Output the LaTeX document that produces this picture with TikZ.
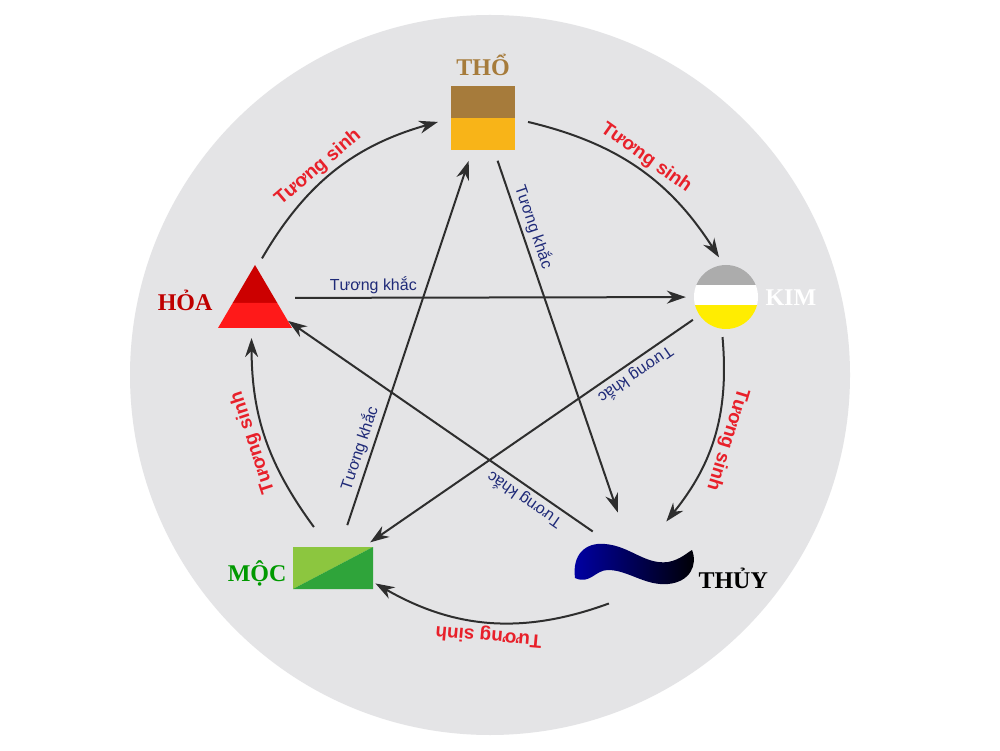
\documentclass[tikz,border=0pt]{standalone}
\usepackage{fontspec}
\setmainfont{Liberation Serif}
\setsansfont{Liberation Sans}
\usetikzlibrary{arrows.meta}
\definecolor{bgcircle}{HTML}{E4E4E6}
\definecolor{thobrown}{HTML}{A67B3B}
\definecolor{thoyellow}{HTML}{F8B418}
\definecolor{sinhred}{HTML}{E8202A}
\definecolor{khacblue}{HTML}{1F2A78}
\definecolor{arrowgrey}{HTML}{2E2E2E}
\definecolor{moclight}{HTML}{8CC63F}
\definecolor{mocdark}{HTML}{2FA43A}
\begin{document}
\begin{tikzpicture}[x=1pt,y=1pt]

\tikzstyle{hidden}=[circle, minimum size=90pt, inner sep=0pt]
\tikzstyle{element}=[font=\fontsize{24}{26}\selectfont\bfseries]
\tikzstyle{connect}=[-{Stealth[length=19pt,width=13pt]}, line width=2pt, draw=arrowgrey]
\tikzstyle{sinh}=[font=\sffamily\bfseries\fontsize{19}{21}\selectfont, text=sinhred]
\tikzstyle{khac}=[font=\sffamily\fontsize{16}{18}\selectfont, text=khacblue]

\useasboundingbox (0,0) rectangle (1000,750);
\fill[white] (0,0) rectangle (1000,750);
\fill[bgcircle] (490,375) circle (360);

% elements
\fill[thobrown] (451,632) rectangle (515,664);
\fill[thoyellow] (451,600) rectangle (515,632);
\node[element, text=thobrown] (tholabel) at (483,685) {THỔ};

\begin{scope}
\clip (726,453) circle (32);
\fill[gray!65] (690,465) rectangle (760,490);
\fill[white] (690,445) rectangle (760,465);
\fill[yellow!95!orange] (690,415) rectangle (760,445);
\end{scope}
\node[element, text=white, anchor=west] (kimlabel) at (762,452) {KIM};

\shade[left color=blue!65!black, right color=black]
  (575,172) .. controls (572,195) and (585,208) .. (605,206)
  .. controls (630,204) and (645,185) .. (668,188)
  .. controls (680,190) and (688,198) .. (692,200)
  .. controls (698,185) and (690,168) .. (668,166)
  .. controls (645,164) and (628,180) .. (608,180)
  .. controls (595,180) and (590,165) .. (575,172) -- cycle;
\node[element, text=black, anchor=west] (thuylabel) at (695,172) {THỦY};

\fill[moclight] (293,161) -- (293,203) -- (373,203) -- cycle;
\fill[mocdark] (293,161) -- (373,203) -- (373,161) -- cycle;
\node[element, text=green!60!black, anchor=east] (moclabel) at (290,177) {MỘC};

\fill[red!80!black] (255,485) -- (232.7,447) -- (277.3,447) -- cycle;
\fill[red!90!white] (232.7,447) -- (218,422) -- (292,422) -- (277.3,447) -- cycle;
\node[element, text=red!75!black, anchor=east] (hoalabel) at (216,450) {HỎA};

\node[hidden] (tho) at (483,632) {};
\node[hidden, minimum size=80pt] (kim) at (726,453) {};
\node[hidden, minimum size=100pt] (thuy) at (634,190) {};
\node[hidden] (moc) at (333,182) {};
\node[hidden, minimum size=80pt] (hoa) at (255,452) {};

% tuong sinh
\draw[connect] (hoa.80) to[bend left=22] node[sinh, sloped, allow upside down, above, pos=0.45] {Tương sinh} (tho.185);
\draw[connect] (tho.-5) to[bend left=22] node[sinh, sloped, allow upside down, above, pos=0.5] {Tương sinh} (kim.100);
\draw[connect] (kim.-95) to[bend left=22] node[sinh, sloped, allow upside down, above, pos=0.5] {Tương sinh} (thuy.50);
\draw[connect] (thuy.-120) to[bend left=25] node[sinh, sloped, allow upside down, above, pos=0.5] {Tương sinh} (moc.-20);
\draw[connect] (moc.115) to[bend left=18] node[sinh, sloped, allow upside down, above, pos=0.5] {Tương sinh} (hoa.-95);

% tuong khac
\draw[connect] (hoa) -- node[khac, sloped, allow upside down, above, pos=0.2] {Tương khắc} (kim);
\draw[connect] (tho) -- node[khac, sloped, allow upside down, above, pos=0.2] {Tương khắc} (thuy);
\draw[connect] (kim) -- node[khac, sloped, allow upside down, above, pos=0.2] {Tương khắc} (moc);
\draw[connect] (thuy) -- node[khac, sloped, allow upside down, above, pos=0.2] {Tương khắc} (hoa);
\draw[connect] (moc) -- node[khac, sloped, allow upside down, above, pos=0.2] {Tương khắc} (tho);

\end{tikzpicture}
\end{document}
